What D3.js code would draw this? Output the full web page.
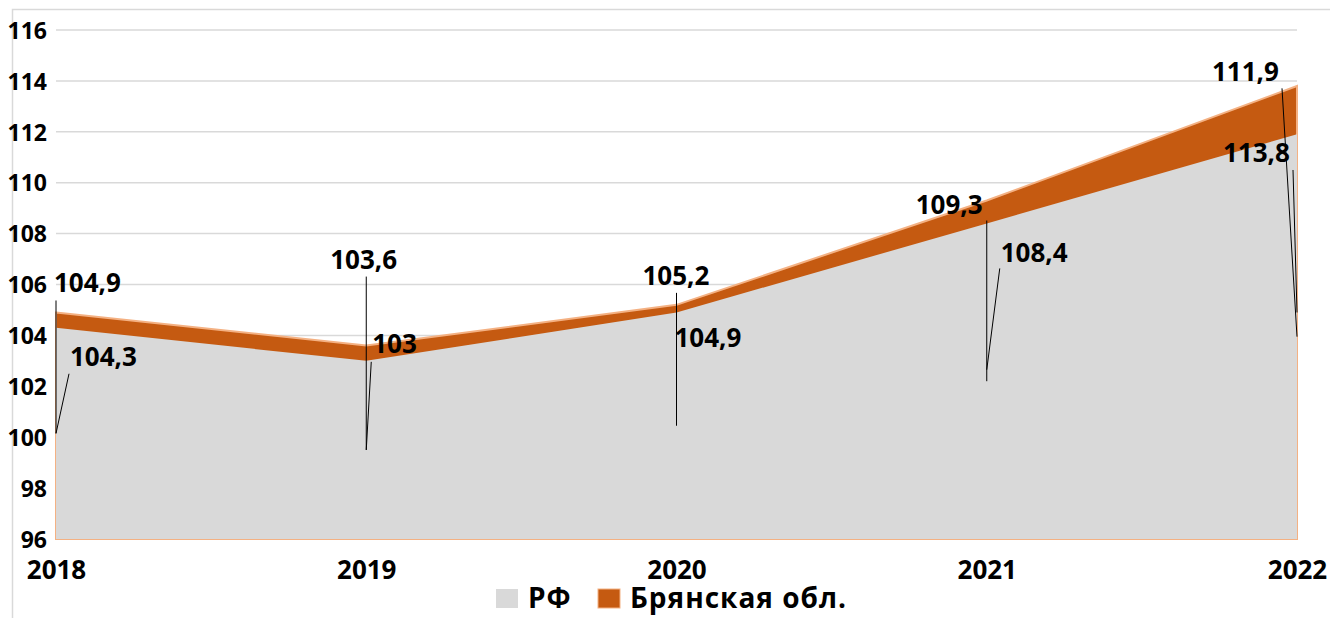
<!DOCTYPE html>
<html lang="ru">
<head>
<meta charset="UTF-8">
<title>РФ и Брянская обл.</title>
<script src="https://d3js.org/d3.v7.min.js"></script>
<style>
  body { margin: 0; background: #fff; }
  svg text { font-family: "Open Sans", sans-serif; font-weight: bold; fill: #000; }
</style>
</head>
<body>
<div id="chart"></div>
<script>
    // --- данные ---
    const years = ["2018", "2019", "2020", "2021", "2022"];
    const rf = [104.3, 103, 104.9, 108.4, 111.9];
    const bryansk = [104.9, 103.6, 105.2, 109.3, 113.8];
    const yTicks = [96, 98, 100, 102, 104, 106, 108, 110, 112, 114, 116];
    const seriesNames = ["РФ", "Брянская обл."];

    // подписи: text - чьё значение, at - к какой точке привязана, target - куда идёт выноска
    const labels = [
        { year: 0, text: "br", at: "br", dx: -2, dy: -20, lx: 0, ly: -12, target: "rf" },
        { year: 0, text: "rf", at: "rf", dx: 14, dy: 38, lx: 13, ly: 46, target: "rf" },
        { year: 1, text: "br", at: "br", dx: -36, dy: -77, lx: 0, ly: -69, target: "rf" },
        { year: 1, text: "rf", at: "rf", dx: 6, dy: -8, lx: 5, ly: 1, target: "rf" },
        { year: 2, text: "br", at: "br", dx: -34, dy: -20, lx: 0, ly: -12, target: "rf" },
        { year: 2, text: "rf", at: "rf", dx: -2, dy: 35, lx: null, ly: null, target: null },
        { year: 3, text: "br", at: "br", dx: -71, dy: 13, lx: 0, ly: 20, target: "rf" },
        { year: 3, text: "rf", at: "rf", dx: 14, dy: 39, lx: 13, ly: 45, target: "br" },
        { year: 4, text: "rf", at: "rf", dx: -85, dy: -53, lx: -15, ly: -46, target: "rf" },
        { year: 4, text: "br", at: "br", dx: -74, dy: 76, lx: -4, ly: 84, target: "br" }
    ];

    const W = 1330, H = 618;
    const margin = { top: 30, right: 33, bottom: 79, left: 56 };
    const width = W - margin.left - margin.right,
          height = H - margin.top - margin.bottom;

    const root = d3.select("#chart").append("svg")
        .attr("width", W)
        .attr("height", H);

    // рамка
    root.append("path")
        .attr("d", `M12.5,${H} V9.5 H${W}`)
        .attr("fill", "none")
        .attr("stroke", "#d9d9d9")
        .attr("stroke-width", 1.5);

    const svg = root.append("g")
        .attr("transform", `translate(${margin.left},${margin.top})`);

    const x = d3.scalePoint().domain(years).range([0, width]);
    const y = d3.scaleLinear().domain([96, 116]).range([height, 0]);

    const data = years.map((yr, i) => ({ year: yr, rf: rf[i], br: bryansk[i] }));

    // сетка
    svg.append("g")
        .selectAll("line")
        .data(yTicks.slice(1))
        .join("line")
        .attr("x1", 0)
        .attr("x2", width)
        .attr("y1", d => y(d))
        .attr("y2", d => y(d))
        .attr("stroke", "#d9d9d9")
        .attr("stroke-width", 1.5);

    const areaBr = d3.area()
        .x(d => x(d.year))
        .y0(y(96))
        .y1(d => y(d.br));

    const areaRf = d3.area()
        .x(d => x(d.year))
        .y0(y(96))
        .y1(d => y(d.rf));

    svg.append("path")
        .datum(data)
        .attr("d", areaBr)
        .attr("fill", "#c55a11")
        .attr("stroke", "#f4b183")
        .attr("stroke-width", 2);

    svg.append("path")
        .datum(data)
        .attr("d", areaRf)
        .attr("fill", "#d9d9d9");

    // оси
    const yAxis = svg.append("g")
        .call(d3.axisLeft(y).tickValues(yTicks).tickSize(0).tickPadding(9));
    yAxis.select(".domain").remove();
    yAxis.selectAll("text")
        .style("font-size", "23px")
        .attr("dy", "0.36em");

    const xAxis = svg.append("g")
        .attr("transform", `translate(0,${height})`)
        .call(d3.axisBottom(x).tickSize(0).tickPadding(22));
    xAxis.select(".domain").remove();
    xAxis.selectAll("text")
        .style("font-size", "26px");

    // подписи данных и выноски
    const val = (d, key) => key === "rf" ? rf[d.year] : bryansk[d.year];
    const mid = (d, key) => (y(val(d, key)) + y(96)) / 2;
    const fmt = v => String(v).replace(".", ",");

    svg.append("g")
        .selectAll("line")
        .data(labels.filter(d => d.target))
        .join("line")
        .attr("x1", d => x(years[d.year]) + d.lx)
        .attr("y1", d => y(val(d, d.at)) + d.ly)
        .attr("x2", d => x(years[d.year]))
        .attr("y2", d => mid(d, d.target))
        .attr("stroke", "#000")
        .attr("stroke-width", 1);

    svg.append("g")
        .selectAll("text")
        .data(labels)
        .join("text")
        .attr("x", d => x(years[d.year]) + d.dx)
        .attr("y", d => y(val(d, d.at)) + d.dy)
        .style("font-size", "26px")
        .text(d => fmt(val(d, d.text)));

    // легенда
    const legend = root.append("g").attr("transform", "translate(496,589)");
    const items = [
        { name: seriesNames[0], color: "#d9d9d9", stroke: "none", x: 0 },
        { name: seriesNames[1], color: "#c55a11", stroke: "#f4b183", x: 102 }
    ];
    const li = legend.selectAll("g")
        .data(items)
        .join("g")
        .attr("transform", d => `translate(${d.x},0)`);
    li.append("rect")
        .attr("width", 22)
        .attr("height", 19)
        .attr("fill", d => d.color)
        .attr("stroke", d => d.stroke);
    li.append("text")
        .attr("x", 32)
        .attr("y", 19)
        .style("font-size", "28px")
        .style("letter-spacing", "1px")
        .text(d => d.name);
</script>
</body>
</html>
